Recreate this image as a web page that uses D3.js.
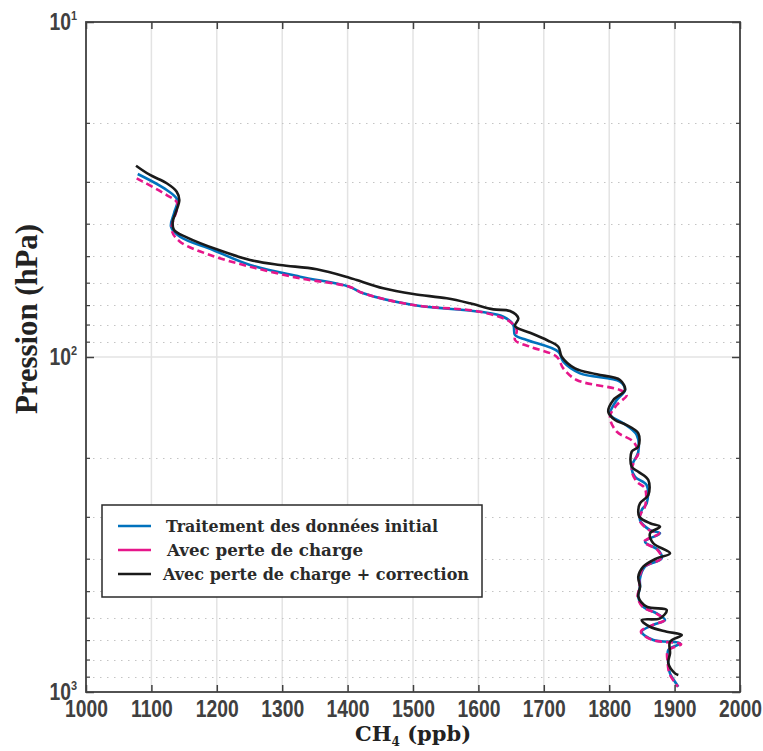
<!DOCTYPE html>
<html>
<head>
<meta charset="utf-8">
<script src="https://cdn.jsdelivr.net/npm/d3@7"></script>
<style>
  html, body { margin: 0; padding: 0; background: #fff; }
  svg { display: block; }
</style>
</head>
<body>
<svg id="chart" width="763" height="751"></svg>
<script>
// ---------------- DATA ----------------
const xTicks = [1000, 1100, 1200, 1300, 1400, 1500, 1600, 1700, 1800, 1900, 2000];
const yMajor = [10, 100, 1000];
const yMinor = [20, 30, 40, 50, 60, 70, 80, 90, 200, 300, 400, 500, 600, 700, 800, 900];
const yMajorLabels = ["1", "2", "3"]; // exponents of 10

const seriesNames = ["Traitement des données initial", "Avec perte de charge", "Avec perte de charge + correction"];
const seriesColors = ["#0072BD", "#E6168A", "#1a1a1a"];

// Traitement des données initial (blue)
const blueP = [28.42, 31.73, 33.98, 37.24, 40.83, 43.75, 47.93, 53.13, 57.58, 61.68, 64.55, 69.97, 73.26, 75.82, 80.25, 85.96, 88.97, 96.43, 103.3, 111.9, 118.5, 125.5, 134.4, 147.3, 150.7, 157.7, 170.9, 191.7, 212.6, 227.7, 241.1, 273.4, 286.2, 306.6, 328.5, 336.0, 355.9, 376.9, 399.0, 422.7, 457.7, 485.0, 519.4, 556.5, 582.3, 609.7, 631.0, 660.7, 699.5, 715.5, 749.2, 821.0, 879.7, 931.9, 964.3];
const blueCH4 = [1079.1, 1123.4, 1139.6, 1134.6, 1130.0, 1143.7, 1194.2, 1250.8, 1327.2, 1402.6, 1424.0, 1500.5, 1602.4, 1638.1, 1653.4, 1656.0, 1673.9, 1722.2, 1729.8, 1755.4, 1816.5, 1824.2, 1811.5, 1801.2, 1803.8, 1821.6, 1842.0, 1844.5, 1834.4, 1839.4, 1857.3, 1857.3, 1849.7, 1847.1, 1862.4, 1877.7, 1854.7, 1875.1, 1880.3, 1854.7, 1847.1, 1847.1, 1844.5, 1852.1, 1872.6, 1885.3, 1867.4, 1849.7, 1867.4, 1908.3, 1890.4, 1890.4, 1893.0, 1900.6, 1905.7];

// Avec perte de charge (pink, dashed)
const pinkP = [29.28, 32.85, 34.70, 41.78, 45.27, 49.60, 53.75, 58.23, 61.68, 64.55, 69.97, 73.26, 78.46, 83.07, 88.97, 93.18, 99.8, 108.1, 117.1, 125.5, 129.9, 139.1, 150.7, 167.1, 178.9, 193.9, 203.0, 217.5, 235.6, 246.6, 279.9, 290.2, 306.6, 328.5, 336.0, 355.9, 376.9, 399.0, 422.7, 457.7, 485.0, 519.4, 556.5, 582.3, 609.7, 631.0, 660.7, 699.5, 720.0, 752.0, 821.0, 879.7, 931.9, 964.3];
const pinkCH4 = [1077.5, 1123.4, 1139.6, 1131.0, 1143.7, 1189.6, 1250.8, 1327.2, 1402.6, 1424.0, 1500.5, 1602.4, 1648.3, 1658.6, 1656.0, 1678.9, 1719.7, 1729.8, 1750.3, 1816.5, 1826.8, 1811.5, 1801.2, 1811.5, 1836.9, 1844.5, 1839.4, 1834.4, 1842.0, 1854.7, 1854.7, 1849.7, 1846.0, 1861.0, 1876.5, 1853.5, 1874.0, 1879.5, 1853.5, 1846.0, 1846.5, 1843.5, 1851.0, 1871.5, 1884.5, 1866.5, 1848.5, 1866.0, 1910.0, 1890.0, 1889.5, 1892.0, 1899.5, 1905.0];

// Avec perte de charge + correction (black)
const blackP = [26.85, 28.62, 30.30, 32.10, 33.98, 36.84, 39.46, 41.78, 43.93, 47.70, 51.33, 53.13, 54.73, 57.98, 58.90, 62.36, 64.86, 66.81, 69.15, 72.07, 72.92, 76.65, 80.81, 84.62, 88.97, 93.18, 99.8, 108.1, 112.6, 117.1, 125.5, 134.4, 145.7, 154.2, 159.6, 169.0, 185.2, 191.7, 212.6, 220.0, 232.9, 258.2, 273.4, 286.2, 299.7, 313.6, 321.0, 336.0, 359.8, 385.5, 399.0, 422.7, 452.7, 485.0, 519.4, 556.5, 569.2, 602.6, 609.7, 638.5, 660.7, 676.0, 707.8, 766.3, 821.0, 879.7, 890.1];
const blackCH4 = [1076.5, 1097.9, 1123.4, 1138.7, 1142.7, 1137.6, 1132.6, 1134.6, 1154.0, 1199.8, 1250.8, 1296.6, 1352.8, 1402.6, 1413.9, 1454.6, 1500.5, 1551.5, 1587.2, 1622.8, 1648.3, 1661.0, 1656.0, 1678.9, 1704.4, 1722.2, 1727.4, 1747.7, 1780.9, 1816.5, 1824.2, 1806.3, 1798.6, 1808.9, 1826.8, 1844.5, 1844.5, 1834.4, 1834.4, 1844.5, 1859.8, 1859.8, 1847.1, 1844.5, 1846.0, 1862.4, 1877.7, 1862.4, 1867.4, 1893.0, 1872.6, 1852.1, 1844.5, 1847.1, 1844.5, 1857.3, 1887.9, 1877.7, 1849.7, 1862.4, 1887.9, 1910.9, 1893.0, 1893.0, 1890.4, 1900.6, 1905.7];

// ---------------- CHART ----------------
const svg = d3.select("#chart");
const L = 86, R = 740, T = 22, B = 692;
const x = d3.scaleLinear().domain([1000, 2000]).range([L, R]);
const y = d3.scaleLog().domain([10, 1000]).range([T, B]);

const axisColor = "#404040";
const tickFont = "'Liberation Sans', Arial, sans-serif";

// grid
const grid = svg.append("g");
grid.selectAll(".vg").data(xTicks.slice(1, -1)).join("line")
  .attr("x1", d => x(d)).attr("x2", d => x(d)).attr("y1", T).attr("y2", B)
  .attr("stroke", "#e3e3e3").attr("stroke-width", 1.5);
grid.selectAll(".hg").data([100]).join("line")
  .attr("x1", L).attr("x2", R).attr("y1", d => y(d)).attr("y2", d => y(d))
  .attr("stroke", "#e3e3e3").attr("stroke-width", 1.5);
grid.selectAll(".hm").data(yMinor).join("line")
  .attr("x1", L).attr("x2", R).attr("y1", d => Math.round(y(d)) + 0.5).attr("y2", d => Math.round(y(d)) + 0.5)
  .attr("stroke", "#c4c4c4").attr("stroke-width", 1).attr("stroke-dasharray", "1.5,5.5");

// series
const line = d3.line().x(d => x(d[1])).y(d => y(d[0])).curve(d3.curveCatmullRom.alpha(0.5));
const series = [
  { P: blueP, V: blueCH4, color: seriesColors[0], dash: null },
  { P: pinkP, V: pinkCH4, color: seriesColors[1], dash: "7,4" },
  { P: blackP, V: blackCH4, color: seriesColors[2], dash: null }
];
series.forEach(s => {
  svg.append("path")
    .datum(d3.zip(s.P, s.V))
    .attr("d", line)
    .attr("fill", "none")
    .attr("stroke", s.color)
    .attr("stroke-width", 2.6)
    .attr("stroke-linejoin", "round")
    .attr("stroke-dasharray", s.dash);
});

// axes: bottom
const xAxis = d3.axisBottom(x).tickValues(xTicks).tickSizeInner(-7).tickSizeOuter(0).tickPadding(0).tickFormat(d3.format("d"));
const gx = svg.append("g").attr("transform", `translate(0,${B})`).call(xAxis);
gx.select(".domain").remove();
gx.selectAll(".tick line").attr("stroke", axisColor).attr("stroke-width", 1.5);
gx.selectAll(".tick text").attr("font-family", tickFont).attr("font-weight", "bold")
  .attr("font-size", 23).attr("fill", axisColor)
  .attr("y", 25).attr("dy", null)
  .attr("transform", "scale(0.84,1)");

// top ticks
const xAxisTop = d3.axisTop(x).tickValues(xTicks).tickSizeInner(-7).tickSizeOuter(0).tickFormat("");
const gxt = svg.append("g").attr("transform", `translate(0,${T})`).call(xAxisTop);
gxt.select(".domain").remove();
gxt.selectAll(".tick line").attr("stroke", axisColor).attr("stroke-width", 1.5);

// y ticks left & right
const yAxisL = d3.axisLeft(y).tickValues(yMajor).tickSizeInner(-8).tickSizeOuter(0).tickFormat("");
const gy = svg.append("g").attr("transform", `translate(${L},0)`).call(yAxisL);
gy.select(".domain").remove();
gy.selectAll(".tick line").attr("stroke", axisColor).attr("stroke-width", 1.5);
const yAxisLm = d3.axisLeft(y).tickValues(yMinor).tickSizeInner(-4).tickSizeOuter(0).tickFormat("");
const gym = svg.append("g").attr("transform", `translate(${L},0)`).call(yAxisLm);
gym.select(".domain").remove();
gym.selectAll(".tick line").attr("stroke", axisColor).attr("stroke-width", 1.2);
const yAxisR = d3.axisRight(y).tickValues(yMajor).tickSizeInner(-8).tickSizeOuter(0).tickFormat("");
const gyr = svg.append("g").attr("transform", `translate(${R},0)`).call(yAxisR);
gyr.select(".domain").remove();
gyr.selectAll(".tick line").attr("stroke", axisColor).attr("stroke-width", 1.5);
const yAxisRm = d3.axisRight(y).tickValues(yMinor).tickSizeInner(-4).tickSizeOuter(0).tickFormat("");
const gyrm = svg.append("g").attr("transform", `translate(${R},0)`).call(yAxisRm);
gyrm.select(".domain").remove();
gyrm.selectAll(".tick line").attr("stroke", axisColor).attr("stroke-width", 1.2);

// y labels 10^n
const yl = svg.append("g");
yMajor.forEach((v, i) => {
  const t = yl.append("text")
    .attr("transform", `translate(77,${y(v) + 8}) scale(0.84,1)`)
    .attr("text-anchor", "end")
    .attr("font-family", tickFont).attr("font-weight", "bold")
    .attr("font-size", 23).attr("fill", axisColor);
  t.append("tspan").text("10");
  t.append("tspan").attr("font-size", 13).attr("dy", -10).text(yMajorLabels[i]);
});

// frame
svg.append("rect").attr("x", L).attr("y", T).attr("width", R - L).attr("height", B - T)
  .attr("fill", "none").attr("stroke", axisColor).attr("stroke-width", 1.8);

// axis titles
const xt = svg.append("text").attr("x", 413).attr("y", 741).attr("text-anchor", "middle")
  .attr("font-family", "'DejaVu Serif', serif").attr("font-weight", "bold")
  .attr("font-size", 21).attr("fill", "#222");
xt.append("tspan").text("CH");
xt.append("tspan").attr("font-size", 12).attr("dy", 5).text("4");
xt.append("tspan").attr("dy", -5).text(" (ppb)");

svg.append("text")
  .attr("transform", "translate(37,319) rotate(-90)")
  .attr("text-anchor", "middle")
  .attr("font-family", "'Liberation Serif', serif").attr("font-weight", "bold")
  .attr("font-size", 31).attr("fill", "#222")
  .attr("textLength", 190).attr("lengthAdjust", "spacingAndGlyphs")
  .text("Pression (hPa)");

// legend
const lg = svg.append("g");
lg.append("rect").attr("x", 102).attr("y", 505).attr("width", 380).attr("height", 92)
  .attr("fill", "#fff").attr("stroke", "#2a2a2a").attr("stroke-width", 1.5);
const legY = [526, 550, 574];
const legTX = [166, 167, 163];
const legLen = [272, 196, 306];
seriesNames.forEach((n, i) => {
  lg.append("line").attr("x1", 118).attr("x2", 151).attr("y1", legY[i]).attr("y2", legY[i])
    .attr("stroke", seriesColors[i]).attr("stroke-width", 2.6);
  lg.append("text").attr("x", legTX[i]).attr("y", legY[i] + 6)
    .attr("font-family", "'DejaVu Serif', serif").attr("font-weight", "bold")
    .attr("font-size", 17).attr("fill", "#2a2a2a")
    .attr("textLength", legLen[i]).attr("lengthAdjust", "spacingAndGlyphs")
    .text(n);
});
</script>
</body>
</html>
